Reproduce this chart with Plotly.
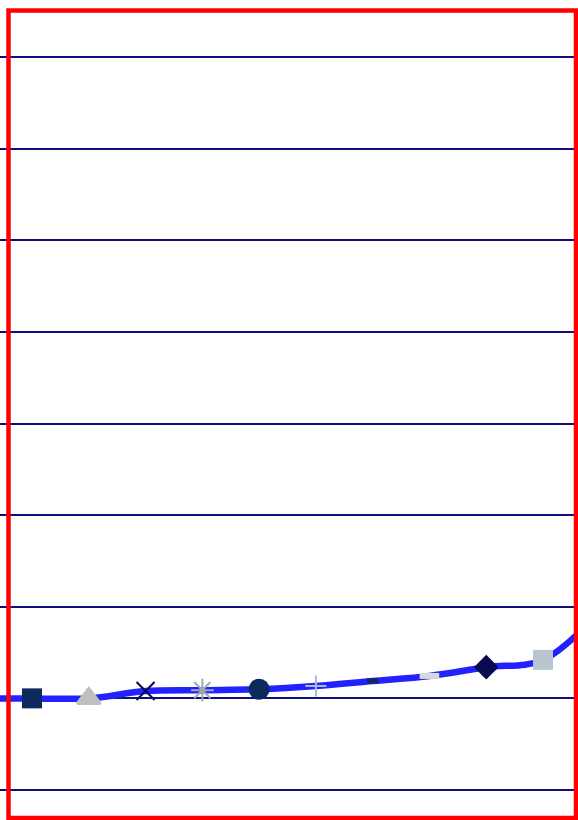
import plotly.graph_objects as go

# Data
x_vals = [0, 1, 2, 3, 4, 5, 6, 7, 8, 9, 10, 11]
y_vals = [1.0, 1.0, 1.0, 1.08, 1.09, 1.10, 1.135, 1.19, 1.245, 1.34, 1.42, 1.95]
symbols = ["circle", "square", "triangle-up", "x-thin", "asterisk", "circle",
           "cross-thin", "line-ew", "line-ew", "diamond", "square", "circle"]
colors = ["#2222ff", "#0c2a5c", "#c0c0c0", "#0a0a50", "#a0a8b0", "#0c2a5c",
          "#a8bcd0", "#0c2a5c", "#d8d8d8", "#0a0a50", "#b8c4d0", "#2222ff"]
line_widths = [0, 0, 3, 2, 2, 0, 2, 5, 6, 0, 0, 0]
sizes = [0, 20, 20, 18, 19, 21, 15, 8, 14, 19, 20, 0]
grid_vals = [0, 1, 2, 3, 4, 5, 6, 7, 8]

fig = go.Figure()
fig.add_trace(go.Scatter(
    x=x_vals, y=y_vals, mode="lines+markers",
    line=dict(color="#2222ff", width=6.5, shape="spline"),
    marker=dict(symbol=symbols, color=colors, size=sizes, opacity=1,
                line=dict(color=colors, width=line_widths)),
    showlegend=False, cliponaxis=True,
))

W, H = 578, 820
fig.update_layout(
    width=W, height=H,
    margin=dict(l=0, r=0, t=0, b=0, pad=0),
    paper_bgcolor="white", plot_bgcolor="white",
    xaxis=dict(range=[1 - 32 / 56.78, 1 + (578 - 32) / 56.78], showgrid=False,
               zeroline=False, showticklabels=False, ticks=""),
    yaxis=dict(range=[(790 - 820) / 91.625, 790 / 91.625], tickvals=grid_vals,
               showgrid=True, gridcolor="#10107a", gridwidth=1.5,
               zeroline=False, showticklabels=False, ticks=""),
    shapes=[dict(type="rect", xref="paper", yref="paper",
                 x0=8.5 / W, x1=576 / W, y0=1 - 818 / H, y1=1 - 10.5 / H,
                 line=dict(color="red", width=4.5), fillcolor="rgba(0,0,0,0)")],
)

fig.write_html("out.html", config={"displayModeBar": False},
               post_script="document.body.style.margin='0';document.body.style.overflow='hidden';")
